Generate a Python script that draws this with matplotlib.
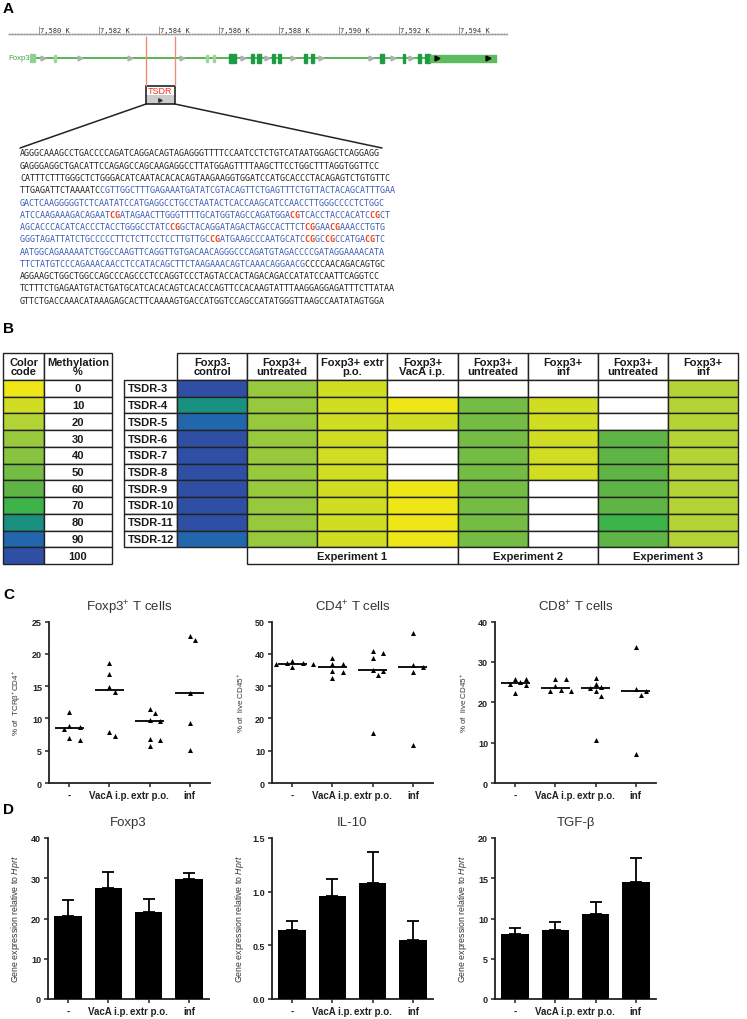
import re
import numpy as np
import matplotlib
matplotlib.use("Agg")
import matplotlib.pyplot as plt
from matplotlib.patches import Rectangle, ConnectionPatch

plt.rcParams['font.family'] = ['Liberation Sans', 'DejaVu Sans']
plt.rcParams['mathtext.fontset'] = 'custom'
plt.rcParams['mathtext.rm'] = 'Liberation Sans'
plt.rcParams['mathtext.it'] = 'Liberation Sans:italic'

seq_font, seq_size = 'DejaVu Sans Mono', 6.0

# ---------------- data: panel A (positions in kb) ----------------
ruler_ticks = [7580, 7582, 7584, 7586, 7588, 7590, 7592, 7594]
gene_span = (7579.70, 7595.23)
utr5 = (7579.70, 7579.87)
light_exons = [7580.53, 7585.60, 7585.83]
coding_exons = [(7586.33, 7586.57), (7587.07, 7587.17), (7587.27, 7587.40),
                (7587.77, 7587.87), (7587.97, 7588.07), (7588.83, 7588.93),
                (7589.07, 7589.17), (7591.37, 7591.50), (7592.13, 7592.20),
                (7592.63, 7592.73), (7592.87, 7593.03)]
utr3 = (7593.03, 7595.23)
intron_arrows = [7580.13, 7581.37, 7583.03, 7584.77, 7586.80, 7587.60,
                 7588.47, 7589.40, 7591.07, 7591.80, 7592.40]
utr3_arrows = [7593.27, 7594.97]
tsdr = (7583.57, 7584.53)

# {..} = TSDR (blue), [..] = CpG (red bold)
seq_lines = [
    "AGGGCAAAGCCTGACCCCAGATCAGGACAGTAGAGGGTTTTCCAATCCTCTGTCATAATGGAGCTCAGGAGG",
    "GAGGGAGGCTGACATTCCAGAGCCAGCAAGAGGCCTTATGGAGTTTTAAGCTTCCTGGCTTTAGGTGGTTCC",
    "CATTTCTTTGGGCTCTGGGACATCAATACACACAGTAAGAAGGTGGATCCATGCACCCTACAGAGTCTGTGTTC",
    "TTGAGATTCTAAAATC{CGTTGGCTTTGAGAAATGATATCGTACAGTTCTGAGTTTCTGTTACTACAGCATTTGAA}",
    "{GACTCAAGGGGGTCTCAATATCCATGAGGCCTGCCTAATACTCACCAAGCATCCAACCTTGGGCCCCTCTGGC}",
    "{ATCCAAGAAAGACAGAAT[CG]ATAGAACTTGGGTTTTGCATGGTAGCCAGATGGA[CG]TCACCTACCACATC[CG]CT}",
    "{AGCACCCACATCACCCTACCTGGGCCTATC[CG]GCTACAGGATAGACTAGCCACTTCT[CG]GAA[CG]AAACCTGTG}",
    "{GGGTAGATTATCTGCCCCCTTCTCTTCCTCCTTGTTGC[CG]ATGAAGCCCAATGCATC[CG]GC[CG]CCATGA[CG]TC}",
    "{AATGGCAGAAAAATCTGGCCAAGTTCAGGTTGTGACAACAGGGCCCAGATGTAGACCCCGATAGGAAAACATA}",
    "{TTCTATGTCCCAGAAACAACCTCCATACAGCTTCTAAGAAACAGTCAAACAGGAACG}CCCCAACAGACAGTGC",
    "AGGAAGCTGGCTGGCCAGCCCAGCCCTCCAGGTCCCTAGTACCACTAGACAGACCATATCCAATTCAGGTCC",
    "TCTTTCTGAGAATGTACTGATGCATCACACAGTCACACCAGTTCCACAAGTATTTAAGGAGGAGATTTCTTATAA",
    "GTTCTGACCAAACATAAAGAGCACTTCAAAAGTGACCATGGTCCAGCCATATGGGTTAAGCCAATATAGTGGA",
]

# ---------------- data: panel B ----------------
legend_vals = [0, 10, 20, 30, 40, 50, 60, 70, 80, 90, 100]
legend_colors = ['#efe617', '#d0dd22', '#b4d336', '#98c93d', '#88c440', '#74bc44',
                 '#5fb446', '#3cb44a', '#1a9180', '#2267ad', '#2e4fa3']
groups = ['Foxp3-\ncontrol', 'Foxp3+\nuntreated', 'Foxp3+ extr\np.o.', 'Foxp3+\nVacA i.p.',
          'Foxp3+\nuntreated', 'Foxp3+\ninf', 'Foxp3+\nuntreated', 'Foxp3+\ninf']
regions = ['TSDR-3', 'TSDR-4', 'TSDR-5', 'TSDR-6', 'TSDR-7',
           'TSDR-8', 'TSDR-9', 'TSDR-10', 'TSDR-11', 'TSDR-12']
nan = np.nan
methylation = [  # rows = regions, columns = groups
    [100, 30, 10, nan, nan, nan, nan, 20],
    [80, 30, 10, 0, 50, 10, nan, 20],
    [90, 30, 10, 10, 50, 10, nan, 20],
    [100, 30, 10, nan, 50, 10, 60, 20],
    [100, 30, 10, nan, 50, 10, 60, 20],
    [100, 30, 10, nan, 50, 10, 60, 20],
    [100, 30, 10, 0, 50, nan, 60, 20],
    [100, 30, 10, 0, 50, nan, 60, 20],
    [100, 30, 10, 0, 50, nan, 70, 20],
    [90, 30, 10, 0, 50, nan, 60, 20],
]
experiments = [('Experiment 1', 1, 4), ('Experiment 2', 4, 6), ('Experiment 3', 6, 8)]

# ---------------- data: panels C and D ----------------
cats = ['-', 'VacA i.p.', 'extr p.o.', 'inf']
foxp3_pct = [[11.0, 8.85, 8.6, 8.4, 6.9, 6.7],
             [18.5, 16.8, 14.8, 14.1, 7.9, 7.3],
             [11.4, 10.8, 9.75, 9.6, 6.8, 6.6, 5.8],
             [22.8, 22.1, 14.0, 9.3, 5.1]]
cd4_pct = [[37.8, 37.3, 37.0, 36.8, 36.8, 35.8],
           [38.7, 36.8, 36.8, 34.8, 34.3, 32.4],
           [40.9, 40.4, 38.7, 35.1, 34.6, 33.4, 15.4],
           [46.4, 36.5, 36.0, 34.3, 11.8]]
cd8_pct = [[25.8, 25.8, 25.0, 24.5, 24.3, 22.2],
           [25.7, 25.7, 24.0, 23.1, 22.8, 22.8],
           [26.0, 24.5, 23.7, 23.6, 22.7, 21.5, 10.6],
           [33.7, 23.2, 22.8, 21.9, 7.3]]

foxp3_mean = [20.5, 27.5, 21.5, 29.8]
foxp3_sem = [4.0, 4.0, 3.3, 1.6]
il10_mean = [0.64, 0.96, 1.08, 0.55]
il10_sem = [0.09, 0.16, 0.29, 0.18]
tgfb_mean = [8.1, 8.6, 10.6, 14.5]
tgfb_sem = [0.75, 0.95, 1.5, 3.0]

# ---------------- figure ----------------
W, H = 747, 1020
fig = plt.figure(figsize=(W / 100, H / 100), dpi=100)


def frac(l, t, r, b):
    return [l / W, 1 - b / H, (r - l) / W, (b - t) / H]


ov = fig.add_axes([0, 0, 1, 1])
ov.set_xlim(0, W)
ov.set_ylim(H, 0)
ov.axis('off')

for s, y in [('A', 9), ('B', 329), ('C', 595), ('D', 810)]:
    ov.text(3, y, s, fontsize=11, fontweight='bold', va='center', ha='left')

# ---- A: gene track ----
ga = fig.add_axes(frac(8, 20, 508, 110))
ga.set_xlim(7578.97, 7595.63)
ga.set_ylim(110, 20)
ga.axis('off')

ga.hlines(35, 7578.97, 7595.63, color='#a0a0a0', lw=1.0)
ga.vlines(np.arange(7579.0, 7595.6, 0.1), 33.6, 36.4, color='#a0a0a0', lw=0.5)
ga.vlines(ruler_ticks, 27, 35, color='#8a8a8a', lw=0.6)
for t in ruler_ticks:
    ga.text(t + 0.04, 30.5, f'{t:,} K', fontsize=5, family=seq_font, color='#333333',
            va='center', ha='left')

ga.text(7578.97, 59, 'Foxp3', fontsize=5.6, color='#3aa845', va='center', ha='left')
ga.hlines(59, *gene_span, color='#4daf4a', lw=1.3, zorder=1)
ga.plot(intron_arrows, [59] * len(intron_arrows), ls='none', marker='>', ms=3.5,
        color='#b0b0b0', zorder=2)
ga.add_patch(Rectangle((utr5[0], 55), utr5[1] - utr5[0], 8, color='#8fcf8f', zorder=3))
for x in light_exons:
    ga.add_patch(Rectangle((x - 0.035, 55.5), 0.07, 7, color='#9fd49f', zorder=3))
for a, b in coding_exons:
    ga.add_patch(Rectangle((a, 54.5), b - a, 9, color='#1f9a45', zorder=3))
ga.add_patch(Rectangle((utr3[0], 55.5), utr3[1] - utr3[0], 7, color='#5fbb5f', zorder=3))
ga.plot(utr3_arrows, [59] * len(utr3_arrows), ls='none', marker='>', ms=3.5,
        color='k', zorder=4)

ga.vlines(tsdr, 37, 87, color='#f28b78', lw=1.0)
tw = tsdr[1] - tsdr[0]
tm = (tsdr[0] + tsdr[1]) / 2
ga.add_patch(Rectangle((tsdr[0], 87), tw, 18, fc='white', ec='none'))
ga.add_patch(Rectangle((tsdr[0], 96), tw, 9, fc='#cccccc', ec='none'))
ga.add_patch(Rectangle((tsdr[0], 87), tw, 18, fc='none', ec='#222222', lw=1.2))
ga.text(tm, 92, 'TSDR', color='#e8331e', fontsize=6.5, ha='center', va='center')
ga.plot([tm], [100.5], marker='>', ms=2.5, color='#333333')

for xa, xb in [(tsdr[0], 20), (tsdr[1], 382)]:
    con = ConnectionPatch(xyA=(xa, 105), coordsA=ga.transData, xyB=(xb, 149),
                          coordsB=ov.transData, color='#222222', lw=1.1)
    fig.add_artist(con)


# ---- A: sequence ----
# one full-length string per colour, other characters blanked, so the
# monospaced layers line up exactly
def layers(line):
    out = {'black': [], 'blue': [], 'red': []}
    blue = red = False
    for ch in line:
        if ch == '{':
            blue = True
        elif ch == '}':
            blue = False
        elif ch == '[':
            red = True
        elif ch == ']':
            red = False
        else:
            kind = 'red' if red else ('blue' if blue else 'black')
            for k in out:
                out[k].append(ch if k == kind else ' ')
    return {k: ''.join(v) for k, v in out.items()}


seq_colors = {'black': '#222222', 'blue': '#3b5cb8', 'red': '#e8401c'}
for i, line in enumerate(seq_lines):
    y = 154 + i * 12.27
    for kind, s in layers(line).items():
        if not s.strip():
            continue
        ov.text(20, y, s, fontsize=seq_size, family=seq_font, color=seq_colors[kind],
                fontweight='bold' if kind == 'red' else 'normal', va='center', ha='left')

# ---- B: legend table ----
edge = '#222222'
rh = (565 - 381) / 11
ov.add_patch(Rectangle((3, 354), 41, 27, fc='white', ec=edge, lw=1.0))
ov.add_patch(Rectangle((44, 354), 68, 27, fc='white', ec=edge, lw=1.0))
tkw = dict(fontsize=8, fontweight='bold', ha='center', va='center', linespacing=0.95,
           color='#1a1a1a')
ov.text(23.5, 367.5, 'Color\ncode', **tkw)
ov.text(78, 367.5, 'Methylation\n%', **tkw)
for i, (v, c) in enumerate(zip(legend_vals, legend_colors)):
    y = 381 + i * rh
    ov.add_patch(Rectangle((3, y), 41, rh, fc=c, ec=edge, lw=1.0))
    ov.add_patch(Rectangle((44, y), 68, rh, fc='white', ec=edge, lw=1.0))
    ov.text(78, y + rh / 2, str(v), **tkw)

# ---- B: methylation table ----
color_of = dict(zip(legend_vals, legend_colors))
cw = (738 - 177) / len(groups)
rh2 = (548.3 - 381) / len(regions)
for j, g in enumerate(groups):
    x = 177 + j * cw
    ov.add_patch(Rectangle((x, 354), cw, 27, fc='white', ec=edge, lw=1.0))
    ov.text(x + cw / 2, 367.5, g, **tkw)
for i, r in enumerate(regions):
    y = 381 + i * rh2
    ov.add_patch(Rectangle((124, y), 53, rh2, fc='white', ec=edge, lw=1.0))
    ov.text(128, y + rh2 / 2, r, fontsize=8, fontweight='bold', ha='left', va='center',
            color='#1a1a1a')
    for j, v in enumerate(methylation[i]):
        c = 'white' if np.isnan(v) else color_of[int(v)]
        ov.add_patch(Rectangle((177 + j * cw, y), cw, rh2, fc=c, ec=edge, lw=1.0))
for name, a, b in experiments:
    x = 177 + a * cw
    ov.add_patch(Rectangle((x, 548.3), (b - a) * cw, 565 - 548.3, fc='white', ec=edge, lw=1.0))
    ov.text(x + (b - a) * cw / 2, 556.7, name, **tkw)


# ---- C / D helpers ----
def style(ax, ymax, step, fmt='{:g}'):
    ax.set_xlim(-0.5, 3.5)
    ax.set_ylim(0, ymax)
    ticks = np.arange(0, ymax + step / 2, step)
    ax.set_yticks(ticks)
    ax.set_yticklabels([fmt.format(t) for t in ticks])
    ax.set_xticks(range(len(cats)))
    ax.set_xticklabels(cats)
    for s in ('top', 'right'):
        ax.spines[s].set_visible(False)
    for s in ('left', 'bottom'):
        ax.spines[s].set_linewidth(1.3)
        ax.spines[s].set_color('#222222')
    ax.tick_params(direction='out', length=3, width=1.1, color='#222222', pad=2)
    for lab in ax.get_yticklabels():
        lab.set_fontsize(6.5)
        lab.set_fontweight('bold')
        lab.set_color('#222222')
    for lab in ax.get_xticklabels():
        lab.set_fontsize(7)
        lab.set_fontweight('bold')
        lab.set_color('#222222')
    ax.patch.set_alpha(0)


def swarm_offsets(vals, ymax, step=0.13, diam=5.5):
    sy = 161.0 / ymax
    sx = 161.0 / 4.0
    placed, offs = [], []
    for v in vals:
        for k in (0, 1, -1, 2, -2, 3, -3, 4, -4):
            dx = k * step
            if all(np.hypot((dx - px) * sx, (v - py) * sy) >= diam for px, py in placed):
                break
        placed.append((dx, v))
        offs.append(dx)
    return offs


scatter_sets = [('Foxp3$^{+}$ T cells', foxp3_pct, 25, 5, '% of  TCRβ$^{+}$CD4$^{+}$', 49),
                ('CD4$^{+}$ T cells', cd4_pct, 50, 10, '% of  live CD45$^{+}$', 272),
                ('CD8$^{+}$ T cells', cd8_pct, 40, 10, '% of  live CD45$^{+}$', 495)]
for title, data, ymax, step, ylab, left in scatter_sets:
    ax = fig.add_axes(frac(left, 622.5, left + 161, 784))
    style(ax, ymax, step)
    for i, vals in enumerate(data):
        offs = swarm_offsets(vals, ymax)
        ax.scatter(np.array(offs) + i, vals, marker='^', s=13, color='k', lw=0, zorder=3,
                   clip_on=False)
        ax.hlines(np.median(vals), i - 0.36, i + 0.36, color='k', lw=1.3, zorder=2)
    ax.set_title(title, fontsize=9.5, color='#333333', pad=8)
    ax.set_ylabel(ylab, fontsize=5.8, color='#333333')
    ax.yaxis.set_label_coords(-0.16, 0.5)

bar_sets = [('Foxp3', foxp3_mean, foxp3_sem, 40, 10, '{:g}', 48),
            ('IL-10', il10_mean, il10_sem, 1.5, 0.5, '{:.1f}', 272),
            ('TGF-β', tgfb_mean, tgfb_sem, 20, 5, '{:g}', 495)]
for title, mean, sem, ymax, step, fmt, left in bar_sets:
    ax = fig.add_axes(frac(left, 839, left + 161, 1000))
    style(ax, ymax, step, fmt)
    x = np.arange(len(cats))
    ax.bar(x, mean, width=0.68, color='k', zorder=3)
    ax.errorbar(x, mean, yerr=[np.zeros(len(sem)), sem], fmt='none', ecolor='k',
                elinewidth=1.3, capsize=4.5, capthick=1.3, zorder=2)
    ax.set_title(title, fontsize=9.5, color='#333333', pad=9)
    ax.set_ylabel('Gene expression relative to $\\it{Hprt}$', fontsize=6.3, color='#333333')
    ax.yaxis.set_label_coords(-0.16, 0.5)

fig.savefig('out.png', dpi=100)
